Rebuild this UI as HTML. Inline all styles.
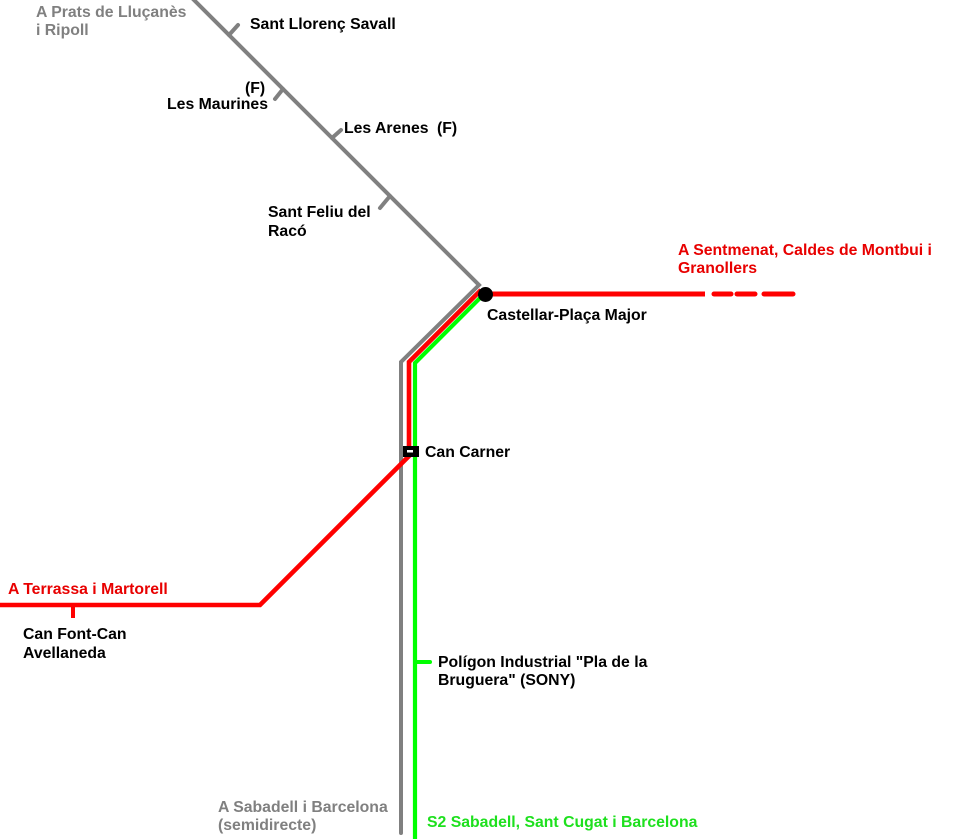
<!DOCTYPE html>
<html>
<head>
<meta charset="utf-8">
<style>
  html,body{margin:0;padding:0;background:#fff;}
  svg{display:block;}
  text{font-family:"Liberation Sans",Arial,sans-serif;font-weight:bold;font-size:15.8px;}
</style>
</head>
<body>
<svg width="962" height="839" viewBox="0 0 962 839" xmlns="http://www.w3.org/2000/svg">
  <rect width="962" height="839" fill="#fff"/>

  <!-- Gray line -->
  <polyline points="189,-5 479,285 401,362 401,833" fill="none" stroke="#808080" stroke-width="4" stroke-linejoin="miter" stroke-linecap="round"/>
  <!-- gray ticks -->
  <g stroke="#808080" stroke-width="4" stroke-linecap="round">
    <line x1="229" y1="35" x2="238" y2="25"/>
    <line x1="283" y1="89" x2="275" y2="99"/>
    <line x1="332" y1="138" x2="341" y2="130"/>
    <line x1="390" y1="196" x2="380" y2="208"/>
  </g>

  <!-- Green line -->
  <polyline points="484,294 415,363 415,845" fill="none" stroke="#00ff00" stroke-width="4.2" stroke-linejoin="miter"/>
  <line x1="415" y1="662" x2="430" y2="662" stroke="#00ff00" stroke-width="4" stroke-linecap="round"/>

  <!-- Red line -->
  <polyline points="481,290 409,362 409,456 260,605 -5,605" fill="none" stroke="#ff0000" stroke-width="4.6" stroke-linejoin="miter"/>
  <line x1="73" y1="605" x2="73" y2="618" stroke="#ff0000" stroke-width="4"/>
  <line x1="486" y1="294" x2="705" y2="294" stroke="#ff0000" stroke-width="5"/>
  <g stroke="#ff0000" stroke-width="5" stroke-linecap="round">
    <line x1="714" y1="294" x2="731" y2="294"/>
    <line x1="737" y1="294" x2="755" y2="294"/>
    <line x1="764" y1="294" x2="793" y2="294"/>
  </g>

  <!-- Stations -->
  <circle cx="485.5" cy="294.5" r="7.5" fill="#000"/>
  <rect x="403" y="446" width="16" height="11" fill="#000"/>
  <rect x="407" y="450" width="6" height="2.5" fill="#fff"/>

  <!-- Gray labels -->
  <g fill="#808080">
    <text x="36" y="17">A Prats de Lluçanès</text>
    <text x="36" y="35">i Ripoll</text>
    <text x="218" y="812">A Sabadell i Barcelona</text>
    <text x="218" y="830">(semidirecte)</text>
  </g>

  <!-- Black labels -->
  <g fill="#000">
    <text x="250" y="29">Sant Llorenç Savall</text>
    <text x="245" y="93">(F)</text>
    <text x="268" y="109" text-anchor="end">Les Maurines</text>
    <text x="344" y="133">Les Arenes</text>
    <text x="437" y="133">(F)</text>
    <text x="268" y="217">Sant Feliu del</text>
    <text x="268" y="236">Racó</text>
    <text x="487" y="320">Castellar-Plaça Major</text>
    <text x="425" y="457">Can Carner</text>
    <text x="23" y="639">Can Font-Can</text>
    <text x="23" y="658">Avellaneda</text>
    <text x="438" y="667">Polígon Industrial "Pla de la</text>
    <text x="438" y="685">Bruguera" (SONY)</text>
  </g>

  <!-- Red labels -->
  <g fill="#e80000">
    <text x="678" y="255">A Sentmenat, Caldes de Montbui i</text>
    <text x="678" y="273">Granollers</text>
    <text x="8" y="594">A Terrassa i Martorell</text>
  </g>

  <!-- Green label -->
  <text x="427" y="827" fill="#1ee01e">S2 Sabadell, Sant Cugat i Barcelona</text>
</svg>
</body>
</html>
